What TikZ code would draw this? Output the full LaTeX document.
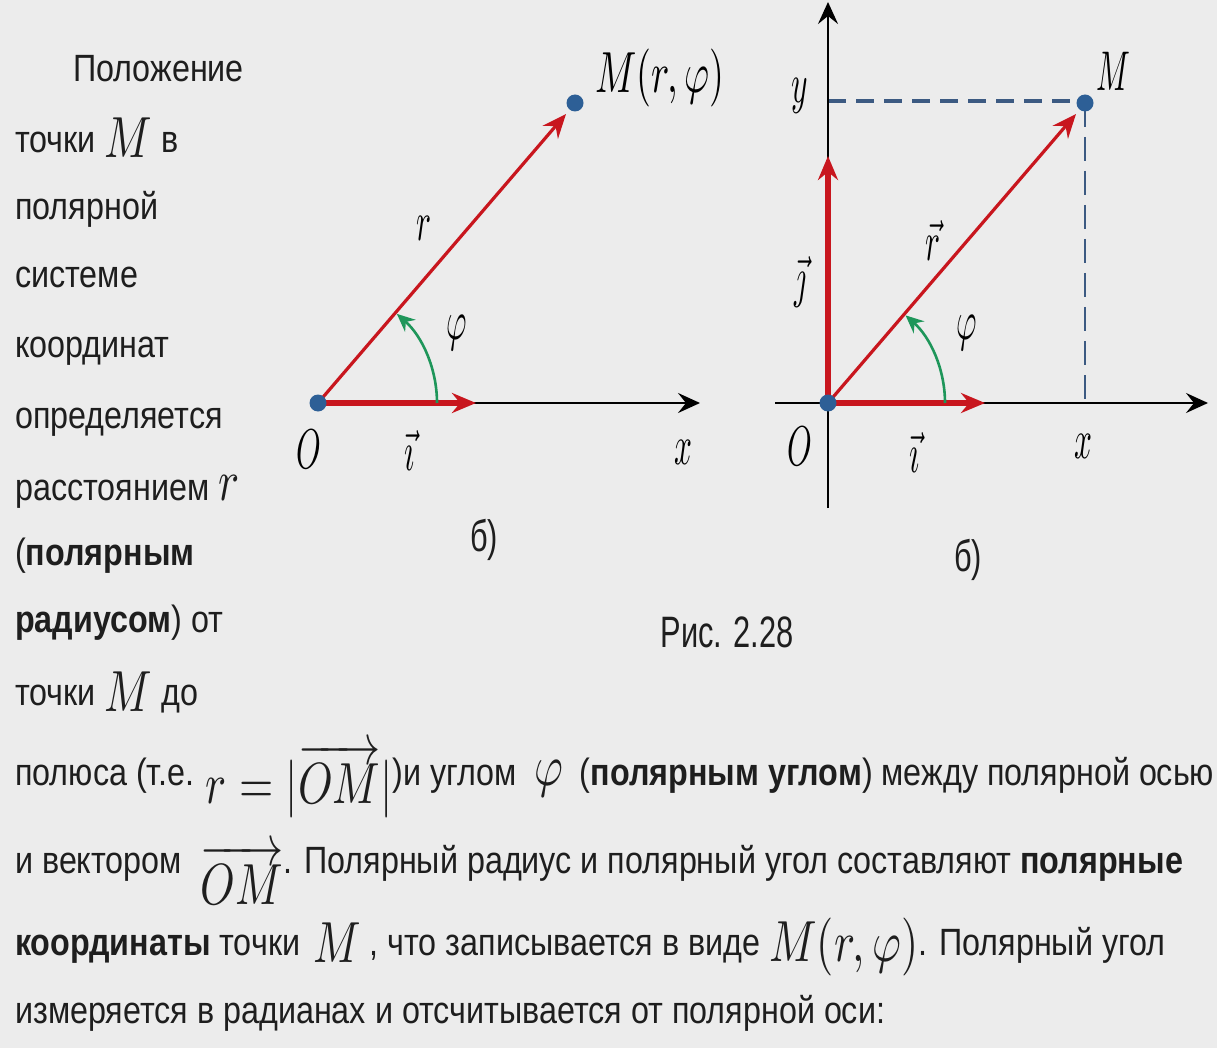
\documentclass[tikz,border=0pt]{standalone}
\usepackage{fix-cm}
\usepackage[no-math]{fontspec}
\usepackage{graphicx}
\setmainfont[FakeStretch=0.85]{Liberation Sans}
\newfontfamily\capfont[FakeStretch=0.7]{Liberation Sans}
\usetikzlibrary{arrows.meta}
\DeclareFontShape{OML}{cmm}{m}{it}{<->cmmi10}{}
\DeclareFontShape{OMS}{cmsy}{m}{n}{<->cmsy10}{}
\DeclareFontShape{OMX}{cmex}{m}{n}{<->cmex10}{}
\DeclareFontShape{OT1}{cmr}{m}{n}{<->cmr10}{}
\definecolor{bg}{RGB}{236,236,236}
\definecolor{vred}{RGB}{200,22,30}
\definecolor{vgreen}{RGB}{30,150,90}
\definecolor{dotblue}{RGB}{45,95,150}
\definecolor{dashblue}{RGB}{60,90,130}
\definecolor{txt}{RGB}{30,30,30}
\newcommand\lbl[1]{\scalebox{0.56}[1]{\fontsize{56}{56}\selectfont$#1$}}
\newcommand\lblw[1]{\scalebox{0.66}[1]{\fontsize{58}{58}\selectfont$#1$}}
\newcommand\mth[1]{\scalebox{0.76}[1]{\fontsize{58}{58}\selectfont$#1$}}
\newcommand\low[2]{\raisebox{-#1pt}{#2}}
\tikzset{
  axis/.style={black, line width=2.6pt, -{Stealth[length=22pt,width=20pt,inset=8pt]}},
  rvec/.style={vred, line width=3.2pt, -{Stealth[length=24pt,width=20pt,inset=8pt]}},
  uvec/.style={vred, line width=5.5pt, -{Stealth[length=24pt,width=20pt,inset=8pt]}},
  angarc/.style={vgreen, line width=2.6pt, -{Stealth[length=18pt,width=16pt,inset=6pt]}},
  projh/.style={dashblue, line width=3.4pt, dash pattern=on 18pt off 10pt},
  projv/.style={dashblue, line width=2.4pt, dash pattern=on 24pt off 10pt},
  dot/.style={circle, fill=dotblue, inner sep=0pt, minimum size=17pt},
  lab/.style={inner sep=0pt, text=black},
  line/.style={anchor=base west, inner sep=0pt, text=txt, font=\fontsize{38}{46}\selectfont},
  sub/.style={inner sep=0pt, text=txt, font=\capfont\fontsize{44}{50}\selectfont},
}
\begin{document}
\begin{tikzpicture}[x=1pt,y=-1pt]
\useasboundingbox (0,0) rectangle (1217,1048);
\fill[bg] (0,0) rectangle (1217,1048);

% ---------- left diagram ----------
\coordinate (O1) at (318,403);
\coordinate (M1) at (575,103);
\coordinate (X1) at (700,403);
\coordinate (I1) at (476,403);
\coordinate (R1) at (566,114);
\draw[axis] (O1) -- (X1);
\draw[uvec] (O1) -- (I1);
\draw[rvec] (O1) -- (R1);
\draw[angarc] ([shift={(0:119)}]O1) arc[start angle=0, end angle=-48.5, radius=119];
\node[dot] (dO1) at (O1) {};
\node[dot] (dM1) at (M1) {};
\node[lab] (lM1) at (660,78) {\lblw{M(r,\varphi)}};
\node[lab] (lr1) at (424,228) {\lbl{r}};
\node[lab] (lphi1) at (457,333) {\lbl{\varphi}};
\node[lab] (lO1) at (309,449) {\lbl{O}};
\node[lab] (li1) at (410,450) {\lbl{\vec{\imath}}};
\node[lab] (lx1) at (683,452) {\lbl{x}};
\node[sub] (sb1) at (484,540) {б)};

% ---------- right diagram ----------
\coordinate (O2) at (828,403);
\coordinate (M2) at (1085,103);
\coordinate (XL) at (775,403);
\coordinate (X2) at (1208,403);
\coordinate (YB) at (828,508);
\coordinate (Y2) at (828,2);
\coordinate (YP) at (828,101);
\coordinate (MH) at (1085,101);
\coordinate (XP) at (1085,403);
\coordinate (I2) at (985,403);
\coordinate (J2) at (828,156);
\coordinate (R2) at (1076,114);
\draw[projh] (YP) -- (MH);
\draw[projv] (M2) -- (XP);
\draw[axis] (XL) -- (X2);
\draw[axis] (YB) -- (Y2);
\draw[uvec] (O2) -- (I2);
\draw[uvec] (O2) -- (J2);
\draw[rvec] (O2) -- (R2);
\draw[angarc] ([shift={(0:117)}]O2) arc[start angle=0, end angle=-48.5, radius=117];
\node[dot] (dO2) at (O2) {};
\node[dot] (dM2) at (M2) {};
\node[lab] (ly2) at (800,96) {\lbl{y}};
\node[lab] (lM2) at (1113,71) {\lbl{M}};
\node[lab] (lj2) at (800,282) {\lbl{\vec{\jmath}}};
\node[lab] (lr2) at (933,240) {\lbl{\vec{r}}};
\node[lab] (lphi2) at (967,333) {\lbl{\varphi}};
\node[lab] (lO2) at (800,446) {\lbl{O}};
\node[lab] (li2) at (915,452) {\lbl{\vec{\imath}}};
\node[lab] (lx2) at (1083,446) {\lbl{x}};
\node[sub] (sb2) at (968,560) {б)};
\node[sub] (cap) at (727,632) {Рис. 2.28};

% ---------- text ----------
\node[line] (t1) at (73,82) {Положение};
\node[line] (t2) at (15,153) {точки \low{5}{\mth{M}} в};
\node[line] (t3) at (15,220) {полярной};
\node[line] (t4) at (15,288) {системе};
\node[line] (t5) at (15,357) {координат};
\node[line] (t6) at (15,428) {определяется};
\node[line] (t7) at (15,500) {расстоянием \mth{r}};
\node[line] (t8) at (15,565) {(\textbf{полярным}};
\node[line] (t9) at (15,632) {\textbf{радиусом}) от};
\node[line] (t10) at (15,705) {точки \low{6}{\mth{M}} до};
\node[line] (t11) at (15,785) {полюса (т.е. \low{18}{\mth{r=\bigl|\overrightarrow{OM}\bigr|}})и углом \hspace{8pt}\mth{\varphi}\hspace{8pt} (\textbf{полярным углом}) между полярной осью};
\node[line] (t12) at (15,873) {и вектором \hspace{10pt}\low{31}{\mth{\overrightarrow{OM}}}. Полярный радиус и полярный угол составляют \textbf{полярные}};
\node[line] (t13) at (15,955) {\textbf{координаты} точки \hspace{4pt}\low{7}{\mth{M}} , что записывается в виде \low{6}{\mth{M(r,\varphi)}}. Полярный угол};
\node[line] (t14) at (15,1023) {измеряется в радианах и отсчитывается от полярной оси:};
\end{tikzpicture}
\end{document}
